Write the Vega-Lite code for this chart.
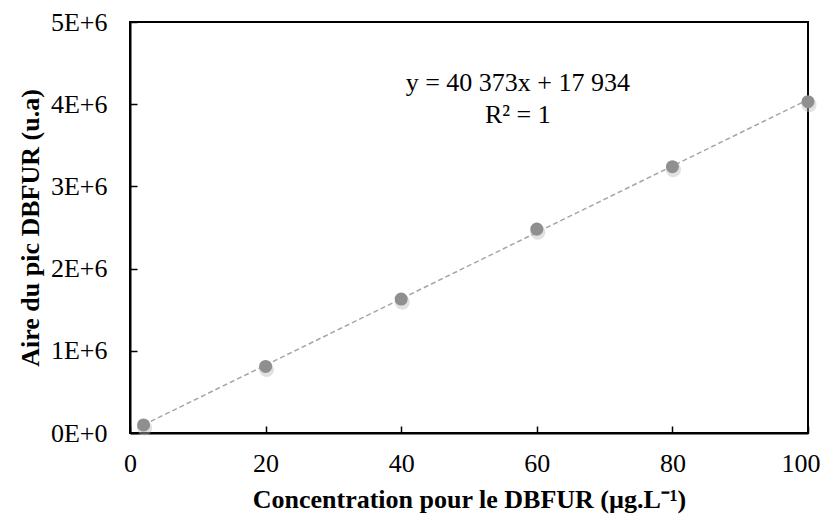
{
  "$schema": "https://vega.github.io/schema/vega-lite/v6.json",
  "width": 678,
  "height": 411,
  "padding": {"left": 130, "top": 22, "right": 17, "bottom": 86},
  "autosize": {"type": "none"},
  "background": "white",
  "config": {
    "view": {"stroke": "black", "strokeWidth": 2},
    "font": "Liberation Serif"
  },
  "datasets": {
    "pts": [
      {"conc": 2, "aire": 98000},
      {"conc": 20, "aire": 810000},
      {"conc": 40, "aire": 1630000},
      {"conc": 60, "aire": 2480000},
      {"conc": 80, "aire": 3240000},
      {"conc": 100, "aire": 4030000}
    ],
    "trend": [
      {"conc": 2, "aire": 98680},
      {"conc": 100, "aire": 4055234}
    ],
    "labels": [
      {"conc": 57.2, "aire": 4258000, "txt": "y = 40 373x + 17 934"},
      {"conc": 57.2, "aire": 3870000, "txt": "R² = 1"}
    ]
  },
  "encoding": {
    "x": {
      "field": "conc", "type": "quantitative",
      "scale": {"domain": [0, 100], "nice": false, "zero": false},
      "axis": {
        "title": "Concentration pour le DBFUR (µg.L⁻¹)",
        "values": [0, 20, 40, 60, 80, 100],
        "grid": false, "domainColor": "black", "domainWidth": 2,
        "tickColor": "black", "tickWidth": 1.5, "tickSize": -7,
        "labelFont": "Liberation Serif", "labelFontSize": 26, "labelColor": "black",
        "labelPadding": 24, "labelFlush": false,
        "labelAlign": {"condition": {"test": "datum.value == 100", "value": "right"}, "value": "center"},
        "labelOffset": {"condition": {"test": "datum.value == 100", "value": 12}, "value": 0},
        "titleFont": "Liberation Serif", "titleFontSize": 26, "titleFontWeight": "bold",
        "titleColor": "black", "titlePadding": 10
      }
    },
    "y": {
      "field": "aire", "type": "quantitative",
      "scale": {"domain": [0, 5000000], "nice": false},
      "axis": {
        "title": "Aire du pic DBFUR (u.a)",
        "values": [0, 1000000, 2000000, 3000000, 4000000, 5000000],
        "labelExpr": "datum.value == 0 ? '0E+0' : (datum.value / 1000000) + 'E+6'",
        "grid": false, "domainColor": "black", "domainWidth": 2,
        "tickColor": "black", "tickWidth": 1.5, "tickSize": -7,
        "labelFont": "Liberation Serif", "labelFontSize": 26, "labelColor": "black",
        "labelPadding": 30, "labelFlush": false,
        "titleFont": "Liberation Serif", "titleFontSize": 26, "titleFontWeight": "bold",
        "titleColor": "black", "titlePadding": 7
      }
    }
  },
  "layer": [
    {
      "data": {"name": "trend"},
      "mark": {"type": "line", "color": "#a6a6a6", "strokeWidth": 1.5, "strokeDash": [5, 3]}
    },
    {
      "data": {"name": "pts"},
      "mark": {"type": "circle", "size": 230, "color": "#bdbdbd", "opacity": 0.45, "xOffset": 1, "yOffset": 3}
    },
    {
      "data": {"name": "pts"},
      "mark": {"type": "circle", "size": 170, "color": "#8f8f8f", "opacity": 1}
    },
    {
      "data": {"name": "labels"},
      "mark": {"type": "text", "font": "Liberation Serif", "fontSize": 26, "color": "black", "align": "center", "baseline": "middle"},
      "encoding": {"text": {"field": "txt"}}
    }
  ]
}
